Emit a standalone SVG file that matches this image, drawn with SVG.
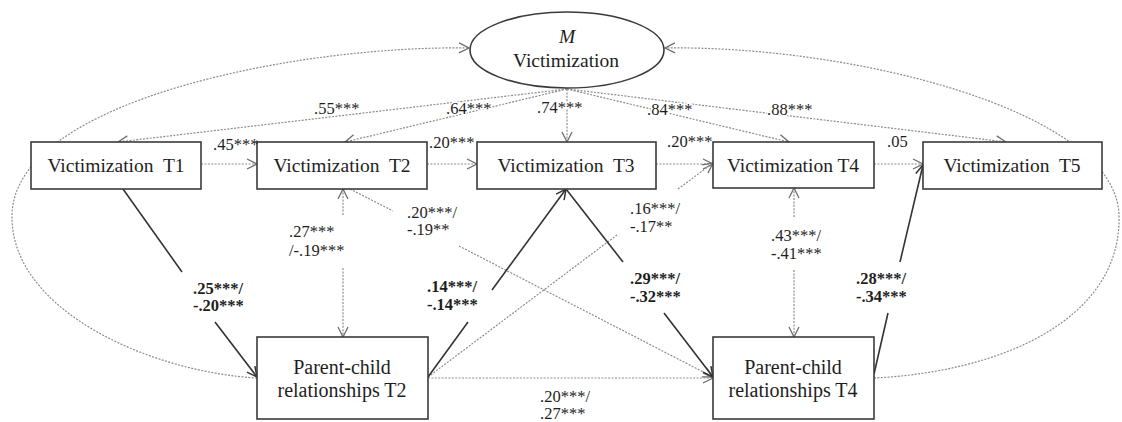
<svg xmlns="http://www.w3.org/2000/svg" width="1122" height="422" viewBox="0 0 1122 422">
  <style>
    .box { fill: #ffffff; stroke: #3a3a3a; stroke-width: 1.6; }
    .lbl { font-family: "Liberation Serif", "Times New Roman", serif; font-size: 19.5px; fill: #1e1e1e; text-anchor: middle; white-space: pre; }
    .pc { font-size: 20px; }
    .num { font-family: "Liberation Serif", "Times New Roman", serif; font-size: 16.5px; fill: #1e1e1e; }
    .b { font-weight: bold; }
    .halo { paint-order: stroke; stroke: #ffffff; stroke-width: 3px; stroke-linejoin: round; }
    .dot { fill: none; stroke: #8c8c8c; stroke-width: 1.2; stroke-dasharray: 2 1.4; }
    .sol { fill: none; stroke: #333333; stroke-width: 1.6; }
  </style>
  <defs>
    <marker id="ad" viewBox="0 0 12 12" refX="11" refY="6" markerUnits="userSpaceOnUse" markerWidth="12" markerHeight="12" orient="auto-start-reverse">
      <path d="M1,1 L11,6 L1,11" fill="none" stroke="#6e6e6e" stroke-width="1.3"/>
    </marker>
    <marker id="as" viewBox="0 0 12 12" refX="11" refY="6" markerUnits="userSpaceOnUse" markerWidth="12" markerHeight="12" orient="auto">
      <path d="M1,1 L11,6 L1,11" fill="none" stroke="#333333" stroke-width="1.5"/>
    </marker>
  </defs>

  <g id="connectors">
    <!-- big curves into the latent mean -->
    <path class="dot" d="M257,378 C150,372 10,310 12,215 C14,100 300,45 469,48" marker-end="url(#ad)"/>
    <path class="dot" d="M874,378 C1000,372 1122,320 1119,215 C1116,110 850,45 665,48" marker-end="url(#ad)"/>
    <!-- latent mean to observed -->
    <line class="dot" x1="567" y1="89" x2="118" y2="142" marker-end="url(#ad)"/>
    <line class="dot" x1="567" y1="89" x2="345" y2="142" marker-end="url(#ad)"/>
    <line class="dot" x1="567" y1="89" x2="567" y2="142" marker-end="url(#ad)"/>
    <line class="dot" x1="567" y1="89" x2="789" y2="142" marker-end="url(#ad)"/>
    <line class="dot" x1="567" y1="89" x2="1006" y2="142" marker-end="url(#ad)"/>
    <!-- autoregressive -->
    <line class="dot" x1="201" y1="164" x2="257" y2="164" marker-end="url(#ad)"/>
    <line class="dot" x1="427" y1="164" x2="477" y2="164" marker-end="url(#ad)"/>
    <line class="dot" x1="656" y1="164" x2="713" y2="164" marker-end="url(#ad)"/>
    <line class="dot" x1="874" y1="164" x2="923" y2="164" marker-end="url(#ad)"/>
    <!-- covariances T2 and T4 -->
    <line class="dot" x1="343" y1="215" x2="343" y2="189" marker-end="url(#ad)"/>
    <line class="dot" x1="343" y1="268" x2="343" y2="337" marker-end="url(#ad)"/>
    <line class="dot" x1="794" y1="217" x2="794" y2="188" marker-end="url(#ad)"/>
    <line class="dot" x1="794" y1="270" x2="794" y2="337" marker-end="url(#ad)"/>
    <!-- dotted cross-lagged -->
    <line class="dot" x1="350" y1="189" x2="393" y2="211"/>
    <line class="dot" x1="459" y1="246" x2="713" y2="377" marker-end="url(#ad)"/>
    <line class="dot" x1="428" y1="377" x2="617" y2="235"/>
    <line class="dot" x1="678" y1="189" x2="713" y2="163" marker-end="url(#ad)"/>
    <line class="dot" x1="428" y1="378" x2="713" y2="378" marker-end="url(#ad)"/>
    <!-- solid cross-lagged -->
    <line class="sol" x1="123" y1="189" x2="182" y2="272"/>
    <line class="sol" x1="215" y1="322" x2="257" y2="377" marker-end="url(#as)"/>
    <line class="sol" x1="428" y1="377" x2="468" y2="322"/>
    <line class="sol" x1="492" y1="290" x2="566" y2="189" marker-end="url(#as)"/>
    <line class="sol" x1="566" y1="189" x2="623" y2="262"/>
    <line class="sol" x1="664" y1="313" x2="713" y2="377" marker-end="url(#as)"/>
    <line class="sol" x1="874" y1="374" x2="888" y2="313"/>
    <line class="sol" x1="900" y1="262" x2="923" y2="165" marker-end="url(#as)"/>
  </g>

  <g id="node-mean">
    <ellipse class="box" cx="567" cy="50" rx="97" ry="38"/>
    <text class="lbl" x="567" y="43" font-style="italic">M</text>
    <text class="lbl" x="566" y="67">Victimization</text>
  </g>
  <g id="node-v1">
    <rect class="box" x="31" y="142" width="170" height="47"/>
    <text class="lbl" x="116" y="172">Victimization  T1</text>
  </g>
  <g id="node-v2">
    <rect class="box" x="257" y="142" width="170" height="47"/>
    <text class="lbl" x="342" y="172">Victimization  T2</text>
  </g>
  <g id="node-v3">
    <rect class="box" x="477" y="142" width="179" height="47"/>
    <text class="lbl" x="566" y="172">Victimization  T3</text>
  </g>
  <g id="node-v4">
    <rect class="box" x="713" y="142" width="161" height="46"/>
    <text class="lbl" x="793" y="172">Victimization T4</text>
  </g>
  <g id="node-v5">
    <rect class="box" x="923" y="142" width="179" height="47"/>
    <text class="lbl" x="1012" y="172">Victimization  T5</text>
  </g>
  <g id="node-pc2">
    <rect class="box" x="257" y="337" width="171" height="82"/>
    <text class="lbl pc" x="342" y="374">Parent-child</text>
    <text class="lbl pc" x="342" y="397">relationships T2</text>
  </g>
  <g id="node-pc4">
    <rect class="box" x="713" y="337" width="161" height="82"/>
    <text class="lbl pc" x="793" y="374">Parent-child</text>
    <text class="lbl pc" x="793" y="397">relationships T4</text>
  </g>

  <g id="labels">
    <text class="num halo" x="314" y="114">.55***</text>
    <text class="num halo" x="446" y="114">.64***</text>
    <text class="num halo" x="537" y="113">.74***</text>
    <text class="num halo" x="647" y="115">.84***</text>
    <text class="num halo" x="767" y="115">.88***</text>
    <text class="num" x="213" y="150">.45***</text>
    <text class="num" x="429" y="148">.20***</text>
    <text class="num" x="667" y="147">.20***</text>
    <text class="num" x="887" y="147">.05</text>
    <text class="num" x="289" y="237">.27***</text>
    <text class="num" x="289" y="256">/-.19***</text>
    <text class="num" x="407" y="218">.20***/</text>
    <text class="num" x="407" y="235">-.19**</text>
    <text class="num" x="630" y="214">.16***/</text>
    <text class="num" x="630" y="232">-.17**</text>
    <text class="num" x="771" y="241">.43***/</text>
    <text class="num" x="771" y="259">-.41***</text>
    <text class="num b" x="193" y="294">.25***/</text>
    <text class="num b" x="193" y="311">-.20***</text>
    <text class="num b" x="427" y="292">.14***/</text>
    <text class="num b" x="427" y="310">-.14***</text>
    <text class="num b" x="630" y="284">.29***/</text>
    <text class="num b" x="630" y="302">-.32***</text>
    <text class="num b" x="856" y="284">.28***/</text>
    <text class="num b" x="856" y="302">-.34***</text>
    <text class="num" x="540" y="402">.20***/</text>
    <text class="num" x="540" y="419">.27***</text>
  </g>
</svg>
